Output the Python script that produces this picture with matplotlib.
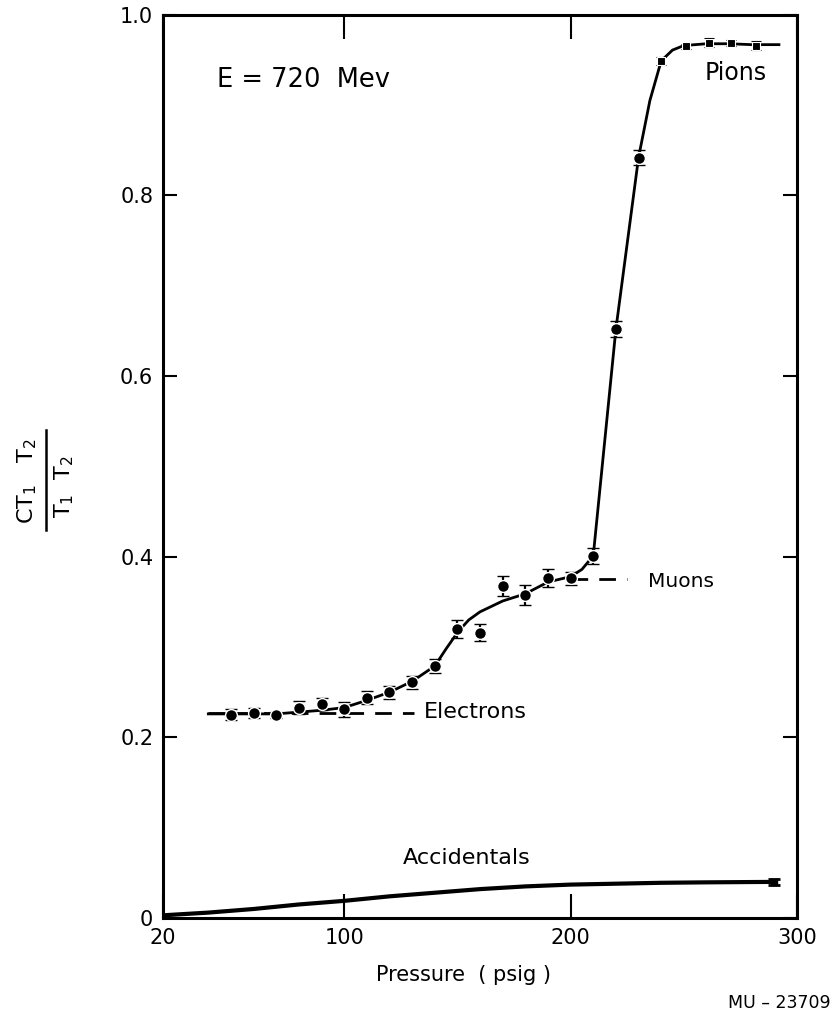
import numpy as np
import matplotlib
matplotlib.use("Agg")
import matplotlib.pyplot as plt
from matplotlib.lines import Line2D

plt.rcParams['font.family'] = ['DejaVu Sans']
plt.rcParams['mathtext.fontset'] = 'dejavusans'

# measured points (pressure in psig, ratio, error)
pressure = [50, 60, 70, 80, 90, 100, 110, 120, 130, 140, 150, 160,
            170, 180, 190, 200, 210, 220, 230]
ratio = [0.225, 0.227, 0.225, 0.233, 0.237, 0.231, 0.244, 0.250, 0.261,
         0.279, 0.320, 0.316, 0.368, 0.358, 0.376, 0.376, 0.401, 0.652, 0.842]
ratio_err = [0.006, 0.006, 0.003, 0.007, 0.007, 0.008, 0.007, 0.007, 0.007,
             0.008, 0.010, 0.009, 0.011, 0.011, 0.010, 0.007, 0.009, 0.009, 0.008]

# pion plateau points
pion_p = [240, 251, 261, 271, 282]
pion_r = [0.949, 0.965, 0.969, 0.969, 0.966]
pion_err = [0.004, 0.003, 0.005, 0.003, 0.005]

# hand drawn curve through the data
curve_p = [40, 50, 60, 70, 80, 90, 100, 110, 120, 130, 140, 145, 150, 155,
           160, 170, 180, 190, 200, 205, 210, 220, 230, 235, 240, 245, 250,
           260, 270, 280, 292]
curve_r = [0.226, 0.226, 0.226, 0.226, 0.228, 0.230, 0.233, 0.241, 0.250,
           0.262, 0.279, 0.298, 0.316, 0.330, 0.339, 0.351, 0.359, 0.372,
           0.378, 0.386, 0.401, 0.652, 0.842, 0.905, 0.949, 0.961, 0.966,
           0.968, 0.968, 0.967, 0.967]

# dashed plateaus
electron_p = [40, 131]
electron_r = [0.227, 0.227]
muon_p = [200, 225]
muon_r = [0.375, 0.375]

# accidentals
acc_p = [20, 40, 60, 80, 100, 120, 140, 160, 180, 200, 220, 240, 260, 290]
acc_r = [0.003, 0.006, 0.010, 0.015, 0.019, 0.024, 0.028, 0.032, 0.035,
         0.037, 0.038, 0.039, 0.0395, 0.040]
acc_pt_p = [290]
acc_pt_r = [0.040]
acc_pt_err = [0.003]

xticks = [20, 100, 200, 300]
yticks = [0, 0.2, 0.4, 0.6, 0.8, 1.0]
ytick_labels = ['0', '0.2', '0.4', '0.6', '0.8', '1.0']

fig = plt.figure(figsize=(8.36, 10.24), dpi=100)
ax = fig.add_axes([0.195, 0.1035, 0.7584, 0.882])

ax.plot(curve_p, curve_r, color='black', lw=2, zorder=2)
ax.plot(electron_p, electron_r, color='black', lw=2, dashes=(6, 4), zorder=2)
ax.plot(muon_p, muon_r, color='black', lw=2, dashes=(6, 4), zorder=2)
ax.plot(acc_p, acc_r, color='black', lw=3, zorder=2)

ax.errorbar(pressure, ratio, yerr=ratio_err, fmt='o', color='black',
            ms=8.5, mec='white', mew=1.0, capsize=4.5, elinewidth=1.6,
            capthick=2, zorder=3)
ax.errorbar(pion_p, pion_r, yerr=pion_err, fmt='s', color='black',
            ms=6, mec='white', mew=0.8, capsize=3.5, elinewidth=1.6,
            capthick=2, zorder=3)
ax.errorbar(acc_pt_p, acc_pt_r, yerr=acc_pt_err, fmt='s', color='black',
            ms=4, capsize=4, elinewidth=1.6, capthick=2, zorder=3)

ax.set_xlim(20, 300)
ax.set_ylim(0, 1.0)
ax.set_xticks(xticks)
ax.set_xticklabels([str(t) for t in xticks])
ax.set_yticks(yticks)
ax.set_yticklabels(ytick_labels)

ax.tick_params(axis='x', direction='in', length=17, width=1.5, top=True,
               labelsize=15, pad=7)
ax.tick_params(axis='y', direction='in', length=10, width=1.5, right=True,
               labelsize=15, pad=7)
for s in ax.spines.values():
    s.set_linewidth(2.2)

ax.text(44, 0.928, 'E = 720  Mev', fontsize=18.5, va='center', ha='left')
ax.text(259, 0.936, 'Pions', fontsize=17, va='center', ha='left')
ax.text(234, 0.373, 'Muons', fontsize=14.5, va='center', ha='left')
ax.text(135, 0.228, 'Electrons', fontsize=16, va='center', ha='left')
ax.text(154, 0.066, 'Accidentals', fontsize=16, va='center', ha='center')

fig.text(0.554, 1 - 975 / 1024, 'Pressure  ( psig )', fontsize=15,
         ha='center', va='center')
fig.text(0.993, 1 - 1003 / 1024, 'MU \u2013 23709', fontsize=12.5,
         ha='right', va='center')

# y label drawn as a stacked fraction
fig.text(27 / 836, 1 - 481 / 1024, r'$\mathrm{CT_1\quad T_2}$',
         fontsize=16, rotation=90, ha='center', va='center')
fig.text(64 / 836, 1 - 487 / 1024, r'$\mathrm{T_1\ \ T_2}$',
         fontsize=16, rotation=90, ha='center', va='center')
fig.add_artist(Line2D([46 / 836, 46 / 836], [1 - 530 / 1024, 1 - 430 / 1024],
                      color='black', lw=1.8, transform=fig.transFigure))

fig.savefig('out.png', dpi=100, facecolor='white')
